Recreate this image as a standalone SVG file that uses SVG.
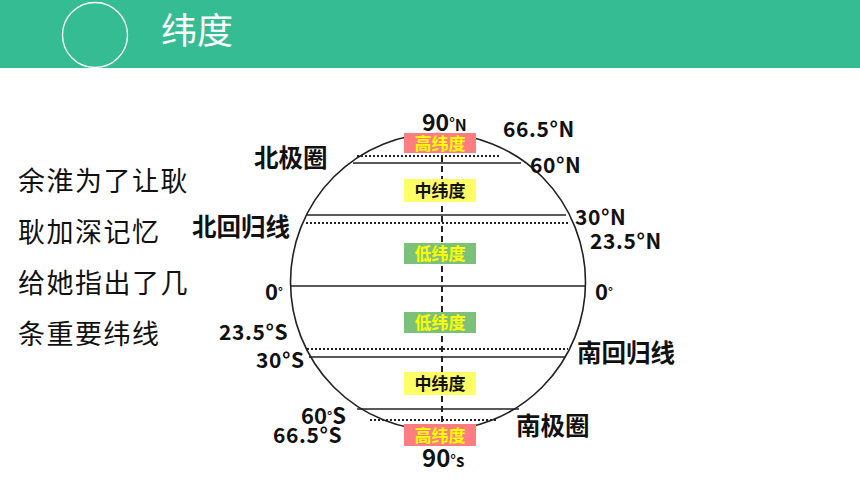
<svg xmlns="http://www.w3.org/2000/svg" width="860" height="484" viewBox="0 0 860 484">
<defs>
<style>
.lbl{font-family:"Noto Sans CJK SC","Open Sans",sans-serif;font-weight:700;fill:#111}
.num{font-size:21px;letter-spacing:0.6px}
.cjk{font-size:24.5px}
.side{font-family:"Noto Sans CJK SC",sans-serif;font-size:27px;letter-spacing:1.5px;fill:#111}
.solid{stroke:#222;stroke-width:1.6;fill:none}
.dot{stroke:#222;stroke-width:2;stroke-dasharray:2 2;fill:none}
.band{font-family:"Noto Sans CJK SC",sans-serif;font-weight:700;font-size:17px;text-anchor:middle}
</style>
</defs>
<rect x="0" y="0" width="860" height="68" fill="#35BC92"/>
<circle cx="95" cy="35" r="32.5" fill="none" stroke="#fff" stroke-width="1.3"/>
<text x="161" y="44" font-family="Noto Sans CJK SC,sans-serif" font-size="36" fill="#fff">纬度</text>

<g id="intro">
<text class="side" x="18" y="191">余淮为了让耿</text>
<text class="side" x="18" y="242">耿加深记忆</text>
<text class="side" x="18" y="293">给她指出了几</text>
<text class="side" x="18" y="344">条重要纬线</text>
</g>

<g id="globe">
<ellipse cx="438" cy="282" rx="147.5" ry="148.5" class="solid"/>
</g>

<g id="connectors">
<line class="dot" x1="357" y1="156" x2="500" y2="156"/>
<line class="solid" x1="353" y1="163" x2="521" y2="163"/>
<line class="solid" x1="307" y1="215" x2="566" y2="215"/>
<line class="dot" x1="306" y1="223" x2="570" y2="223"/>
<line class="solid" x1="291" y1="286" x2="585" y2="286"/>
<line class="dot" x1="307" y1="349" x2="568" y2="349"/>
<line class="solid" x1="309" y1="357" x2="565" y2="357"/>
<line class="solid" x1="357" y1="409" x2="519" y2="409"/>
<line class="dot" x1="370" y1="420" x2="496" y2="420"/>
<line x1="442" y1="136" x2="442" y2="428" stroke="#222" stroke-width="2" stroke-dasharray="6 4"/>
</g>

<g id="high-n">
<rect x="404" y="133" width="72" height="20" fill="#FF7C80"/>
<text class="band" x="440" y="149.5" fill="#FFFF00">高纬度</text>
</g>
<g id="mid-n">
<rect x="404" y="179" width="72" height="23" fill="#FFFF66"/>
<text class="band" x="440" y="197" fill="#111">中纬度</text>
</g>
<g id="low-n">
<rect x="404" y="243" width="72" height="21" fill="#7CC17A"/>
<text class="band" x="440" y="259.5" fill="#FFFF00">低纬度</text>
</g>
<g id="low-s">
<rect x="404" y="312" width="72" height="21" fill="#7CC17A"/>
<text class="band" x="440" y="328.5" fill="#FFFF00">低纬度</text>
</g>
<g id="mid-s">
<rect x="404" y="372" width="72" height="23" fill="#FFFF66"/>
<text class="band" x="440" y="390" fill="#111">中纬度</text>
</g>
<g id="high-s">
<rect x="404" y="424" width="72" height="22" fill="#FF7C80"/>
<text class="band" x="440" y="441.5" fill="#FFFF00">高纬度</text>
</g>

<g id="labels">
<text class="lbl" x="422" y="131" font-size="23">90<tspan font-size="14" dy="-3">°</tspan><tspan font-size="16" dy="3">N</tspan></text>
<text class="lbl num" x="503" y="137">66.5°N</text>
<text class="lbl num" x="530" y="173">60°N</text>
<text class="lbl cjk" x="254" y="167">北极圈</text>
<text class="lbl cjk" x="192" y="236">北回归线</text>
<text class="lbl num" x="575" y="225">30°N</text>
<text class="lbl num" x="590" y="249">23.5°N</text>
<text class="lbl" x="265" y="300" font-size="22">0<tspan font-size="12" dy="-4">°</tspan></text>
<text class="lbl" x="595" y="300" font-size="22">0<tspan font-size="12" dy="-4">°</tspan></text>
<text class="lbl num" x="219" y="340">23.5°S</text>
<text class="lbl num" x="256" y="368">30°S</text>
<text class="lbl cjk" x="577" y="362">南回归线</text>
<text class="lbl" x="301" y="424" font-size="22">60<tspan font-size="13" dy="-3">°</tspan><tspan dy="3">S</tspan></text>
<text class="lbl num" x="273" y="443">66.5°S</text>
<text class="lbl cjk" x="516" y="435">南极圈</text>
<text class="lbl" x="422" y="467" font-size="24">90<tspan font-size="14" dy="-2">°</tspan><tspan font-size="17" dy="2">s</tspan></text>
</g>
</svg>
